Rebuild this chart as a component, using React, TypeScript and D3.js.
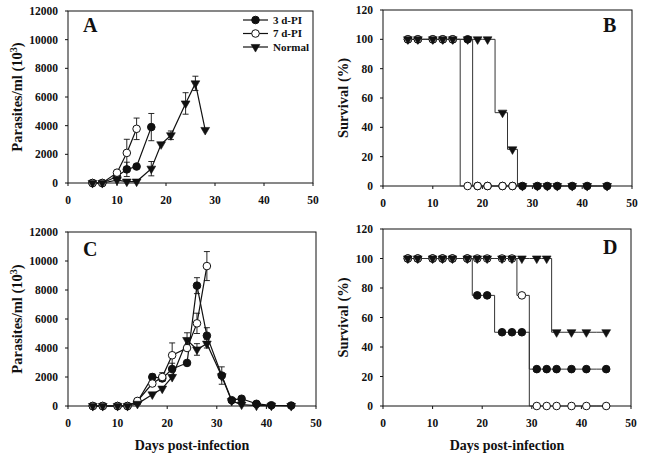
import React from "react";
import * as d3 from "d3";

// ---------- DATA ----------
const seriesNames = ["3 d-PI", "7 d-PI", "Normal"];
const xTicks = [0, 10, 20, 30, 40, 50];
const parasiteTicks = [0, 2000, 4000, 6000, 8000, 10000, 12000];
const survivalTicks = [0, 20, 40, 60, 80, 100, 120];

// Panel A – parasitaemia
const aDays3 = [5, 7, 10, 12, 14, 17];
const aVals3 = [0, 0, 450, 950, 1150, 3900];
const aErr3 = [0, 0, 0, 500, 0, 950];
const aDays7 = [5, 7, 10, 12, 14];
const aVals7 = [0, 0, 720, 2100, 3780];
const aErr7 = [0, 0, 0, 950, 750];
const aDaysN = [5, 7, 10, 12, 14, 17, 19, 21, 24, 26, 28];
const aValsN = [0, 0, 200, 100, 100, 1000, 2700, 3330, 5550, 6950, 3700];
const aErrN = [0, 0, 0, 0, 0, 500, 0, 300, 750, 500, 0];

// Panel B – survival
const bDays3 = [5, 7, 10, 12, 14, 17, 19, 21, 24, 26, 28, 31, 33, 35, 38, 41, 45];
const bVals3 = [100, 100, 100, 100, 100, 100, 0, 0, 0, 0, 0, 0, 0, 0, 0, 0, 0];
const bDays7 = [5, 7, 10, 12, 14, 17, 19, 21, 24, 26];
const bVals7 = [100, 100, 100, 100, 100, 0, 0, 0, 0, 0];
const bDaysN = [5, 7, 10, 12, 14, 17, 19, 21, 24, 26, 28, 31, 33, 35, 38, 41, 45];
const bValsN = [100, 100, 100, 100, 100, 100, 100, 100, 50, 25, 0, 0, 0, 0, 0, 0, 0];

// Panel C – parasitaemia
const cDays3 = [5, 7, 10, 12, 14, 17, 19, 21, 24, 26, 28, 31, 33, 35, 38, 41, 45];
const cVals3 = [0, 0, 0, 0, 300, 2000, 1900, 2550, 2970, 8300, 4850, 2100, 400, 500, 150, 50, 30];
const cErr3 = [0, 0, 0, 0, 0, 200, 0, 400, 0, 550, 550, 600, 0, 0, 0, 0, 0];
const cDays7 = [5, 7, 10, 12, 14, 17, 19, 21, 24, 26, 28];
const cVals7 = [0, 0, 0, 0, 350, 1550, 2000, 3500, 4000, 5700, 9650];
const cErr7 = [0, 0, 0, 0, 0, 0, 300, 850, 0, 700, 1000];
const cDaysN = [5, 7, 10, 12, 14, 17, 19, 21, 24, 26, 28, 31, 33, 35, 38, 41, 45];
const cValsN = [0, 0, 0, 0, 150, 800, 1200, 2000, 4550, 3900, 4300, 2050, 350, 100, 30, 20, 0];
const cErrN = [0, 0, 0, 0, 0, 0, 0, 0, 500, 400, 300, 0, 0, 0, 0, 0, 0];

// Panel D – survival
const dDays = [5, 7, 10, 12, 14, 17, 19, 21, 24, 26, 28, 31, 33, 35, 38, 41, 45];
const dVals3 = [100, 100, 100, 100, 100, 100, 75, 75, 50, 50, 50, 25, 25, 25, 25, 25, 25];
const dVals7 = [100, 100, 100, 100, 100, 100, 100, 100, 100, 100, 75, 0, 0, 0, 0, 0, 0];
const dValsN = [100, 100, 100, 100, 100, 100, 100, 100, 100, 100, 100, 100, 100, 50, 50, 50, 50];

// ---------- RENDERING ----------
const FONT = "'Liberation Serif', 'Times New Roman', serif";
const INK = "#111";

type Series = { name: string; days: number[]; vals: number[]; err?: number[] };

type PanelProps = {
  left: number;
  right: number;
  top: number;
  bottom: number;
  yMax: number;
  yTicks: number[];
  series: Series[];
  step: boolean;
  letter: string;
  letterX: number;
  letterY: number;
  yLabel: React.ReactNode;
  yLabelX: number;
  xLabel?: string;
  legend?: boolean;
};

function Marker({ kind, x, y }: { kind: number; x: number; y: number }) {
  if (kind === 0) return <circle cx={x} cy={y} r={3.8} fill={INK} stroke={INK} strokeWidth={1} />;
  if (kind === 1) return <circle cx={x} cy={y} r={3.8} fill="#fff" stroke={INK} strokeWidth={1} />;
  const s = 4.4, h = 7.6;
  return (
    <path
      d={`M${x - s},${y - h / 3}L${x + s},${y - h / 3}L${x},${y + (2 * h) / 3}Z`}
      fill={INK}
      stroke={INK}
      strokeWidth={0.6}
    />
  );
}

function Panel(p: PanelProps) {
  const x = d3.scaleLinear().domain([0, 50]).range([p.left, p.right]);
  const y = d3.scaleLinear().domain([0, p.yMax]).range([p.bottom, p.top]);
  const line = d3
    .line<[number, number]>()
    .x((d) => x(d[0]))
    .y((d) => y(d[1]))
    .curve(p.step ? d3.curveStep : d3.curveLinear);

  return (
    <g>
      {/* frame */}
      <rect x={p.left} y={p.top} width={p.right - p.left} height={p.bottom - p.top} fill="none" stroke={INK} strokeWidth={1} />
      {/* ticks */}
      {xTicks.map((t) => (
        <g key={"x" + t}>
          <line x1={x(t)} x2={x(t)} y1={p.bottom} y2={p.bottom + 3} stroke={INK} />
          <text x={x(t)} y={p.bottom + 21} textAnchor="middle" fontFamily={FONT} fontWeight="bold" fontSize={11.5} fill={INK}>
            {t}
          </text>
        </g>
      ))}
      {p.yTicks.map((t) => (
        <g key={"y" + t}>
          <line x1={p.left - 3} x2={p.left} y1={y(t)} y2={y(t)} stroke={INK} />
          <text x={p.left - 10} y={y(t)} dy="0.35em" textAnchor="end" fontFamily={FONT} fontWeight="bold" fontSize={11.5} fill={INK}>
            {t}
          </text>
        </g>
      ))}
      {/* y label */}
      <text
        transform={`translate(${p.yLabelX},${(p.top + p.bottom) / 2}) rotate(-90)`}
        textAnchor="middle"
        dy="0.35em"
        fontFamily={FONT}
        fontWeight="bold"
        fontSize={14.5}
        fill={INK}
      >
        {p.yLabel}
      </text>
      {p.xLabel && (
        <text x={(p.left + p.right) / 2} y={450} textAnchor="middle" fontFamily={FONT} fontWeight="bold" fontSize={14} fill={INK}>
          {p.xLabel}
        </text>
      )}
      {/* letter */}
      <text x={p.letterX} y={p.letterY} fontFamily={FONT} fontWeight="bold" fontSize={20} fill={INK}>
        {p.letter}
      </text>
      {/* lines */}
      {p.series.map((s, i) => (
        <path
          key={"l" + i}
          d={line(s.days.map((d, j) => [d, s.vals[j]] as [number, number])) || ""}
          fill="none"
          stroke={p.step ? "#333" : INK}
          strokeWidth={p.step ? 1 : 1.2}
        />
      ))}
      {/* error bars */}
      {p.series.map((s, i) =>
        (s.err || []).map((e, j) =>
          e > 0 ? (
            <g key={`e${i}-${j}`} stroke={INK} strokeWidth={0.9}>
              <line x1={x(s.days[j])} x2={x(s.days[j])} y1={y(s.vals[j] - e)} y2={y(s.vals[j] + e)} />
              <line x1={x(s.days[j]) - 3} x2={x(s.days[j]) + 3} y1={y(s.vals[j] + e)} y2={y(s.vals[j] + e)} />
              <line x1={x(s.days[j]) - 3} x2={x(s.days[j]) + 3} y1={y(s.vals[j] - e)} y2={y(s.vals[j] - e)} />
            </g>
          ) : null
        )
      )}
      {/* markers */}
      {p.series.map((s, i) =>
        s.days.map((d, j) => <Marker key={`m${i}-${j}`} kind={i} x={x(d)} y={y(s.vals[j])} />)
      )}
      {/* legend */}
      {p.legend &&
        seriesNames.map((n, i) => {
          const ly = 20 + i * 13.5;
          return (
            <g key={"lg" + i}>
              <line x1={243} x2={268} y1={ly} y2={ly} stroke={INK} strokeWidth={1.2} />
              <Marker kind={i} x={255.5} y={ly} />
              <text x={273} y={ly} dy="0.35em" fontFamily={FONT} fontWeight="bold" fontSize={11} fill={INK}>
                {n}
              </text>
            </g>
          );
        })}
    </g>
  );
}

const parLabel = (
  <>
    Parasites/ml (10<tspan baselineShift="super" fontSize={10}>3</tspan>)
  </>
);

export default function App() {
  return (
    <svg width={645} height={456} style={{ position: "absolute", left: 0, top: 0, background: "#fff" }}>
      <rect width={645} height={456} fill="#fff" />
      <Panel
        left={68}
        right={313}
        top={11}
        bottom={183}
        yMax={12000}
        yTicks={parasiteTicks}
        step={false}
        series={[
          { name: seriesNames[0], days: aDays3, vals: aVals3, err: aErr3 },
          { name: seriesNames[1], days: aDays7, vals: aVals7, err: aErr7 },
          { name: seriesNames[2], days: aDaysN, vals: aValsN, err: aErrN },
        ]}
        letter="A"
        letterX={83}
        letterY={32}
        yLabel={parLabel}
        yLabelX={17}
        legend
      />
      <Panel
        left={383}
        right={632}
        top={10}
        bottom={186}
        yMax={120}
        yTicks={survivalTicks}
        step
        series={[
          { name: seriesNames[0], days: bDays3, vals: bVals3 },
          { name: seriesNames[1], days: bDays7, vals: bVals7 },
          { name: seriesNames[2], days: bDaysN, vals: bValsN },
        ]}
        letter="B"
        letterX={603}
        letterY={32}
        yLabel="Survival (%)"
        yLabelX={343}
      />
      <Panel
        left={68}
        right={316}
        top={232}
        bottom={406}
        yMax={12000}
        yTicks={parasiteTicks}
        step={false}
        series={[
          { name: seriesNames[0], days: cDays3, vals: cVals3, err: cErr3 },
          { name: seriesNames[1], days: cDays7, vals: cVals7, err: cErr7 },
          { name: seriesNames[2], days: cDaysN, vals: cValsN, err: cErrN },
        ]}
        letter="C"
        letterX={83}
        letterY={256}
        yLabel={parLabel}
        yLabelX={17}
        xLabel="Days post-infection"
      />
      <Panel
        left={383}
        right={631}
        top={229}
        bottom={406}
        yMax={120}
        yTicks={survivalTicks}
        step
        series={[
          { name: seriesNames[0], days: dDays, vals: dVals3 },
          { name: seriesNames[1], days: dDays, vals: dVals7 },
          { name: seriesNames[2], days: dDays, vals: dValsN },
        ]}
        letter="D"
        letterX={603}
        letterY={254}
        yLabel="Survival (%)"
        yLabelX={343}
        xLabel="Days post-infection"
      />
    </svg>
  );
}
